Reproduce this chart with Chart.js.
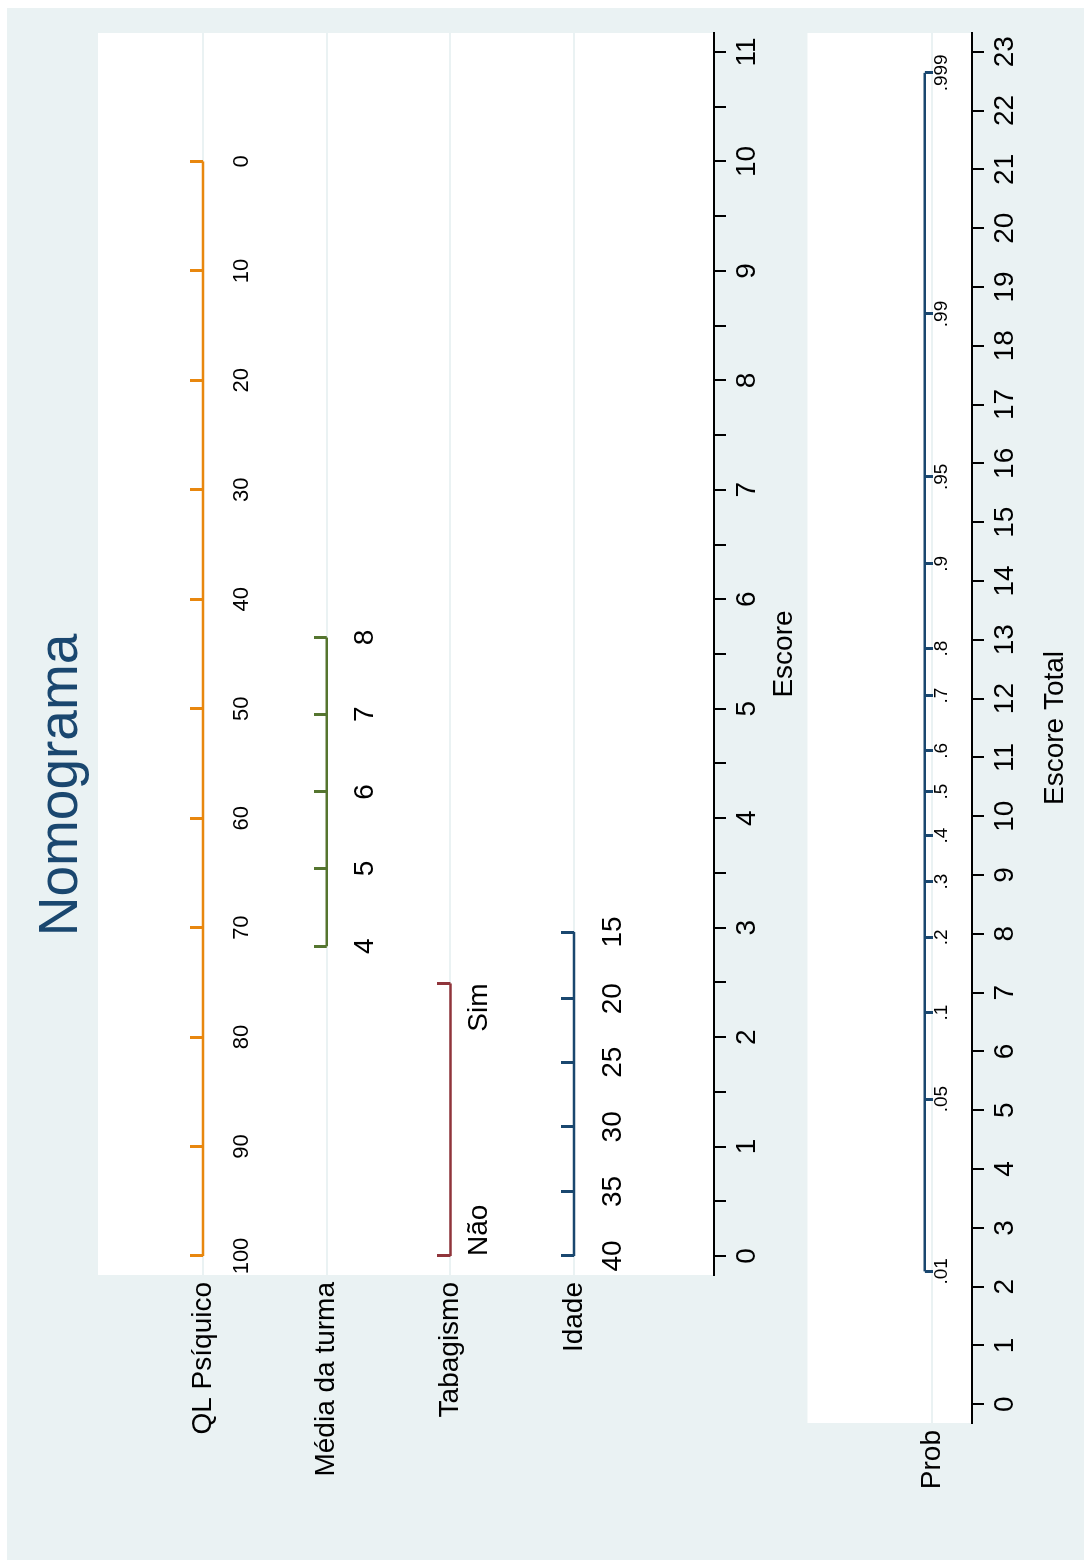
<!DOCTYPE html>
<html>
<head>
<meta charset="utf-8">
<title>Nomograma</title>
<script src="https://cdn.jsdelivr.net/npm/chart.js@4.4.1/dist/chart.umd.min.js"></script>
<style>
  html, body { margin: 0; padding: 0; background: #fff; overflow: hidden; }
  /* the graph is built landscape and turned a quarter to the left */
  #page {
    position: absolute; left: 0; top: 0; width: 1560px; height: 1084px;
    transform-origin: 0 0; transform: translate(0, 1560px) rotate(-90deg);
  }
  #bg { position: absolute; left: 0; top: 7px; width: 1552px; height: 1077px; background: #eaf2f3; }
  #topChart { position: absolute; left: 23px; top: 7px; }
  #probChart { position: absolute; left: 0; top: 801px; }
</style>
</head>
<body>
<div id="page">
  <div id="bg"></div>
  <canvas id="topChart" width="1529" height="801"></canvas>
  <canvas id="probChart" width="1552" height="283"></canvas>
</div>
<script>
// Axis ticks
const scoreTicks = [0, 1, 2, 3, 4, 5, 6, 7, 8, 9, 10, 11];
const totalTicks = [0, 1, 2, 3, 4, 5, 6, 7, 8, 9, 10, 11, 12, 13, 14, 15, 16, 17, 18, 19, 20, 21, 22, 23];

// Rows of the nomogram
const rowNames = ['QL Psíquico', 'Média da turma', 'Tabagismo', 'Idade'];

// Each variable: label shown under the line and its score
const qlLabels = ['100', '90', '80', '70', '60', '50', '40', '30', '20', '10', '0'];
const qlScores = [0, 1, 2, 3, 4, 5, 6, 7, 8, 9, 10];

const mediaLabels = ['4', '5', '6', '7', '8'];
const mediaScores = [2.83, 3.54, 4.24, 4.95, 5.65];

const tabLabels = ['Não', 'Sim'];
const tabScores = [0, 2.49];

const idadeLabels = ['40', '35', '30', '25', '20', '15'];
const idadeScores = [0, 0.59, 1.18, 1.77, 2.35, 2.96];

// Probability scale against total score
const probLabels = ['.01', '.05', '.1', '.2', '.3', '.4', '.5', '.6', '.7', '.8', '.9', '.95', '.99', '.999'];
const probScores = [2.26, 5.19, 6.66, 7.94, 8.89, 9.67, 10.42, 11.11, 12.05, 12.85, 14.29, 15.77, 18.54, 22.64];

const family = "'Liberation Sans', Arial, Helvetica, sans-serif";
Chart.defaults.font.family = family;
Chart.defaults.color = '#000';

const orange = '#e8870e';
const green = '#55752f';
const maroon = '#90353b';
const navy = '#1a476f';
const bgColor = '#eaf2f3';

// small tick mark used as point style, drawn only on one side of the point
function tickMark(color, len, up) {
    const c = document.createElement('canvas');
    c.width = 3;
    c.height = len * 2;
    const g = c.getContext('2d');
    g.fillStyle = color;
    g.fillRect(0, up ? 0 : len, 3, len);
    return c;
}

function rowData(scores, row) {
    return scores.map(s => ({ x: s, y: row }));
}

function lineDataset(name, scores, row, color, extra) {
    return Object.assign({
        label: name,
        data: rowData(scores, row),
        showLine: true,
        borderColor: color,
        backgroundColor: color,
        borderWidth: 2.5,
        tension: 0,
        pointRadius: 3,
        pointStyle: tickMark(color, 13, true)
    }, extra);
}

// white plot region
const plotBackground = {
    id: 'plotBackground',
    beforeDraw(chart) {
        const a = chart.chartArea;
        chart.ctx.save();
        chart.ctx.fillStyle = '#fff';
        chart.ctx.fillRect(a.left, a.top, a.right - a.left, a.bottom - a.top);
        chart.ctx.restore();
    }
};

// optional vertical shift of a dataset (prob line sits a little above its row)
const datasetShift = {
    id: 'datasetShift',
    beforeDatasetDraw(chart, args) {
        const ds = chart.data.datasets[args.index];
        chart.ctx.save();
        if (ds.shiftY) chart.ctx.translate(0, ds.shiftY);
    },
    afterDatasetDraw(chart) {
        chart.ctx.restore();
    }
};

// value labels under each point
const pointLabels = {
    id: 'pointLabels',
    afterDatasetsDraw(chart) {
        const ctx = chart.ctx;
        chart.data.datasets.forEach((ds, i) => {
            if (!ds.pointLabels) return;
            const meta = chart.getDatasetMeta(i);
            ctx.save();
            ctx.font = ds.labelFont;
            ctx.fillStyle = '#000';
            ctx.textBaseline = 'middle';
            meta.data.forEach((pt, j) => {
                ctx.textAlign = ds.labelAlign ? ds.labelAlign[j] : 'center';
                ctx.fillText(ds.pointLabels[j], pt.x, pt.y + (ds.shiftY || 0) + ds.labelOffset);
            });
            ctx.restore();
        });
    }
};

new Chart(document.getElementById('topChart'), {
    type: 'scatter',
    data: {
        datasets: [
            lineDataset('QL Psíquico', qlScores, 1, orange,
                { pointLabels: qlLabels, labelFont: '22px ' + family, labelOffset: 39 }),
            lineDataset('Média da turma', mediaScores, 2, green,
                { pointLabels: mediaLabels, labelFont: '28px ' + family, labelOffset: 39 }),
            lineDataset('Tabagismo', tabScores, 3, maroon,
                { pointLabels: tabLabels, labelFont: '28px ' + family, labelOffset: 29, labelAlign: ['left', 'right'] }),
            lineDataset('Idade', idadeScores, 4, navy,
                { pointLabels: idadeLabels, labelFont: '28px ' + family, labelOffset: 39 })
        ]
    },
    options: {
        responsive: false,
        animation: false,
        events: [],
        layout: { padding: { left: 0, right: 25, top: 0, bottom: 0 } },
        plugins: {
            legend: { display: false },
            tooltip: { enabled: false },
            title: {
                display: true,
                text: 'Nomograma',
                color: navy,
                font: { size: 55, weight: 'normal' },
                padding: { top: 22, bottom: 3 }
            }
        },
        scales: {
            x: {
                type: 'linear',
                min: -0.1736,
                max: 11.1736,
                afterBuildTicks: scale => {
                    const t = [];
                    scoreTicks.forEach((v, i) => {
                        t.push({ value: v });
                        if (i < scoreTicks.length - 1) t.push({ value: (v + scoreTicks[i + 1]) / 2 });
                    });
                    scale.ticks = t;
                },
                afterFit: scale => { scale.height = 94; },
                ticks: {
                    callback: v => (scoreTicks.includes(v) ? String(v) : ''),
                    font: { size: 28 },
                    color: '#000',
                    padding: 4,
                    maxRotation: 0,
                    autoSkip: false
                },
                grid: { drawOnChartArea: false, drawTicks: true, tickLength: 12, color: '#000', lineWidth: 2 },
                border: { display: true, color: '#000', width: 2 },
                title: { display: true, text: 'Escore', color: '#000', font: { size: 28 }, padding: { top: 0, bottom: 7 } }
            },
            y: {
                type: 'linear',
                reverse: true,
                min: 0.151,
                max: 5.131,
                afterBuildTicks: scale => { scale.ticks = rowNames.map((n, i) => ({ value: i + 1 })); },
                afterFit: scale => { scale.width = 262; scale.paddingTop = 0; scale.paddingBottom = 0; },
                ticks: {
                    callback: v => rowNames[v - 1],
                    font: { size: 28 },
                    color: '#000',
                    padding: 7,
                    autoSkip: false
                },
                grid: { color: bgColor, lineWidth: 2, drawTicks: false },
                border: { display: false }
            }
        }
    },
    plugins: [plotBackground, datasetShift, pointLabels]
});

new Chart(document.getElementById('probChart'), {
    type: 'scatter',
    data: {
        datasets: [{
            label: 'Prob',
            data: rowData(probScores, 1),
            showLine: true,
            borderColor: navy,
            backgroundColor: navy,
            borderWidth: 2.5,
            tension: 0,
            pointRadius: 3,
            pointStyle: tickMark(navy, 8, false),
            shiftY: -7,
            pointLabels: probLabels,
            labelFont: '19px ' + family,
            labelOffset: 17
        }]
    },
    options: {
        responsive: false,
        animation: false,
        events: [],
        layout: { padding: { left: 0, right: 25, top: 0, bottom: 0 } },
        plugins: {
            legend: { display: false },
            tooltip: { enabled: false }
        },
        scales: {
            x: {
                type: 'linear',
                min: -0.318,
                max: 23.318,
                afterBuildTicks: scale => { scale.ticks = totalTicks.map(v => ({ value: v })); },
                afterFit: scale => { scale.height = 112; },
                ticks: {
                    font: { size: 28 },
                    color: '#000',
                    padding: 4,
                    maxRotation: 0,
                    autoSkip: false
                },
                grid: { drawOnChartArea: false, drawTicks: true, tickLength: 12, color: '#000', lineWidth: 2 },
                border: { display: true, color: '#000', width: 2 },
                title: { display: true, text: 'Escore Total', color: '#000', font: { size: 28 }, padding: { top: 0, bottom: 12 } }
            },
            y: {
                type: 'linear',
                min: 0.756,
                max: 1.756,
                afterBuildTicks: scale => { scale.ticks = [{ value: 1 }]; },
                afterFit: scale => { scale.width = 137; scale.paddingTop = 0; scale.paddingBottom = 0; },
                ticks: {
                    callback: () => 'Prob',
                    font: { size: 28 },
                    color: '#000',
                    padding: 7
                },
                grid: { color: bgColor, lineWidth: 2, drawTicks: false },
                border: { display: false }
            }
        }
    },
    plugins: [plotBackground, datasetShift, pointLabels]
});
</script>
</body>
</html>
